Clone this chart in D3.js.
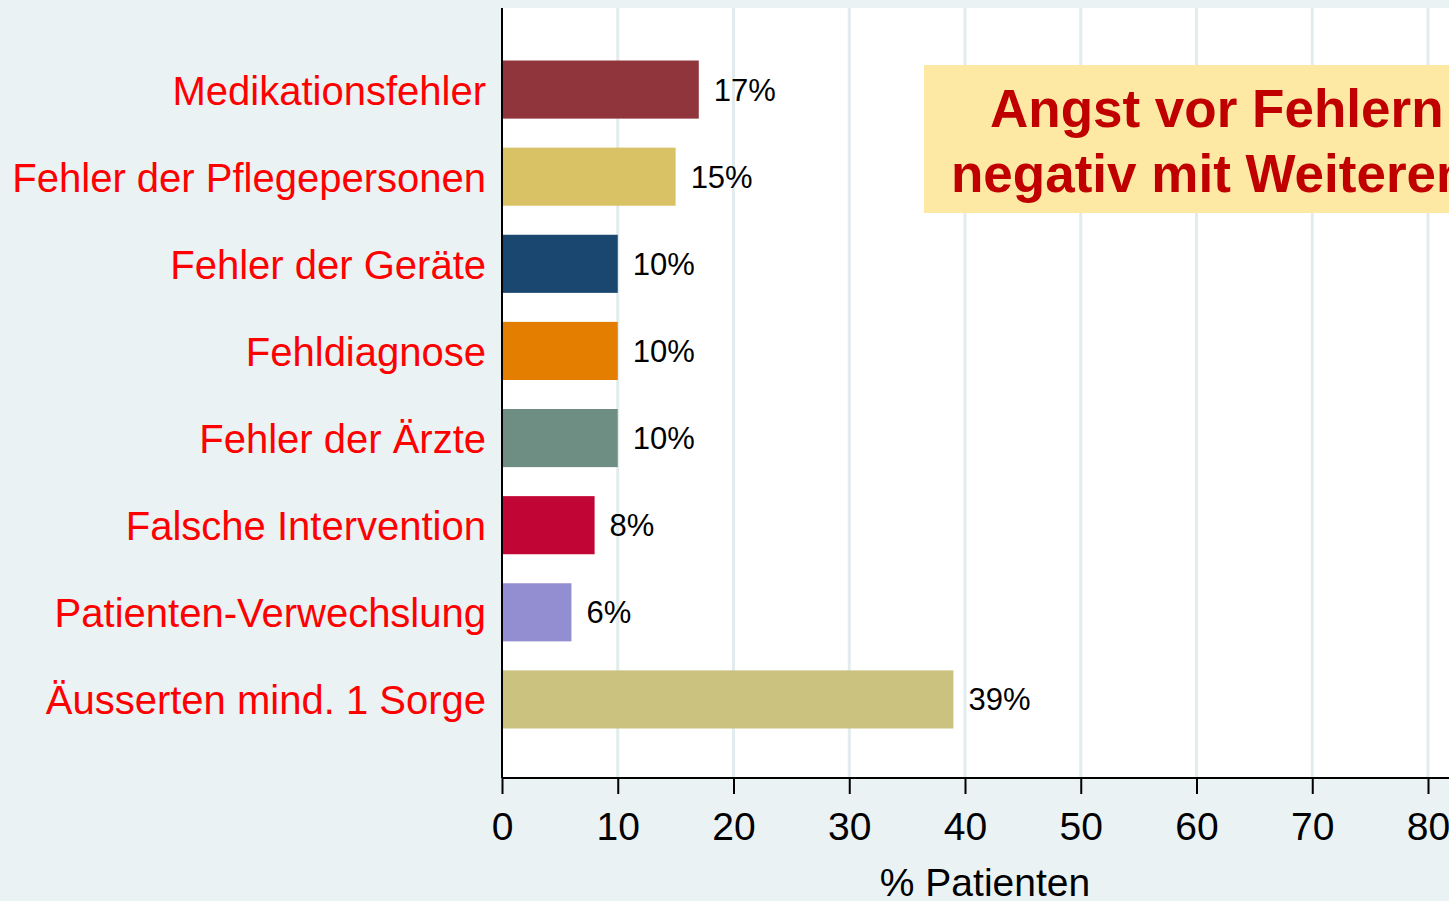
<!DOCTYPE html>
<html>
<head>
<meta charset="utf-8">
<script src="https://cdn.jsdelivr.net/npm/d3@7"></script>
<style>
  html, body { margin: 0; padding: 0; background: #eaf2f3; overflow: hidden; }
  svg { display: block; font-family: "Liberation Sans", Arial, sans-serif; }
</style>
</head>
<body>
<svg id="mainContainer"></svg>
<script>
/* global d3 */

var categories = ['Medikationsfehler', 'Fehler der Pflegepersonen', 'Fehler der Geräte', 'Fehldiagnose',
                  'Fehler der Ärzte', 'Falsche Intervention', 'Patienten-Verwechslung', 'Äusserten mind. 1 Sorge'];
var values = [17, 15, 10, 10, 10, 8, 6, 39];
var barColors = ['#90353b', '#d9c266', '#1a476f', '#e37e00', '#6e8e84', '#c10534', '#938dd2', '#cac27e'];
var xTicks = [0, 10, 20, 30, 40, 50, 60, 70, 80];
var xTitle = '% Patienten';
var noteLines = ['Angst vor Fehlern', 'negativ mit Weiteren'];

var svgWidth = 1449;
var svgHeight = 901;

var svg = d3.select('#mainContainer')
    .attr('width', svgWidth)
    .attr('height', svgHeight);

var x = d3.scaleLinear().domain([0, 80]).range([502, 1428]);
var y = d3.scaleBand().domain(categories).range([46, 743]).paddingInner(0.333).paddingOuter(0.1665);

var plotTop = 8;
var plotBottom = 778;

// white plot region (runs past the right edge)
svg.append('rect')
    .attr('x', x(0))
    .attr('y', plotTop)
    .attr('width', svgWidth - x(0) + 10)
    .attr('height', plotBottom - plotTop)
    .attr('fill', '#ffffff');

// grid
svg.append('g')
    .selectAll('line')
    .data(xTicks.filter(function(d){ return d > 0; }))
    .enter()
    .append('line')
    .attr('x1', function(d){ return x(d); })
    .attr('x2', function(d){ return x(d); })
    .attr('y1', plotTop)
    .attr('y2', plotBottom)
    .attr('stroke', '#e2ebee')
    .attr('stroke-width', 3);

// note box
var note = svg.append('g');
note.append('rect')
    .attr('x', 924)
    .attr('y', 65)
    .attr('width', 560)
    .attr('height', 148)
    .attr('fill', '#fde8a4');
note.selectAll('text')
    .data(noteLines)
    .enter()
    .append('text')
    .attr('x', function(d, i){ return i == 0 ? 990 : 951; })
    .attr('y', function(d, i){ return 127 + i * 65; })
    .attr('fill', '#c00000')
    .attr('font-weight', 'bold')
    .attr('font-size', '53px')
    .text(function(d){ return d; });

// bars
svg.append('g')
    .selectAll('rect')
    .data(values)
    .enter()
    .append('rect')
    .attr('x', x(0))
    .attr('y', function(d, i){ return y(categories[i]); })
    .attr('width', function(d){ return x(d) - x(0); })
    .attr('height', y.bandwidth())
    .attr('fill', function(d, i){ return barColors[i]; });

// value labels
svg.append('g')
    .selectAll('text')
    .data(values)
    .enter()
    .append('text')
    .attr('x', function(d){ return x(d) + 15; })
    .attr('y', function(d, i){ return y(categories[i]) + y.bandwidth() / 2 + 11; })
    .attr('font-size', '31px')
    .attr('fill', '#000')
    .text(function(d){ return d + '%'; });

// category labels
svg.append('g')
    .selectAll('text')
    .data(categories)
    .enter()
    .append('text')
    .attr('x', 486)
    .attr('y', function(d){ return y(d) + y.bandwidth() / 2 + 15; })
    .attr('text-anchor', 'end')
    .attr('font-size', '40px')
    .attr('fill', '#ff0000')
    .text(function(d){ return d; });

// x axis
var xAxis = svg.append('g')
    .attr('transform', 'translate(0,' + plotBottom + ')')
    .call(d3.axisBottom(x).tickValues(xTicks).tickSize(16).tickPadding(18));
xAxis.select('.domain').remove();
xAxis.append('line')
    .attr('x1', x(0))
    .attr('x2', svgWidth + 10)
    .attr('stroke', '#000')
    .attr('stroke-width', 2);
xAxis.selectAll('.tick line').attr('stroke', '#000').attr('stroke-width', 2);
xAxis.selectAll('.tick text')
    .attr('font-size', '39px')
    .attr('font-family', '"Liberation Sans", Arial, sans-serif')
    .attr('fill', '#000');

// y axis line
svg.append('line')
    .attr('x1', x(0))
    .attr('x2', x(0))
    .attr('y1', plotTop)
    .attr('y2', plotBottom)
    .attr('stroke', '#000')
    .attr('stroke-width', 2);

svg.append('text')
    .attr('x', 985)
    .attr('y', 896)
    .attr('text-anchor', 'middle')
    .attr('font-size', '39px')
    .attr('fill', '#000')
    .text(xTitle);
</script>
</body>
</html>
